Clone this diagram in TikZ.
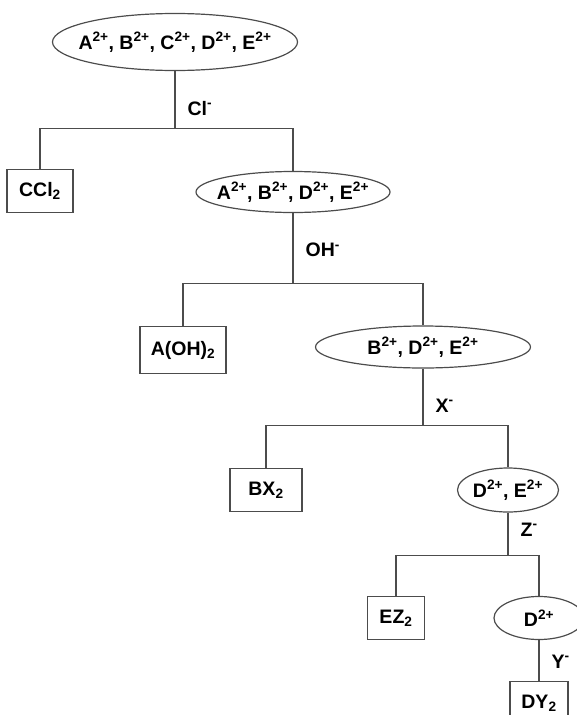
\documentclass[tikz,border=0pt]{standalone}
\usepackage{fontspec}
\setmainfont{Liberation Sans}
\usetikzlibrary{shapes.geometric, positioning, calc}

\newcommand{\ion}[1]{#1\textsuperscript{2+}}

\begin{document}
\begin{tikzpicture}[x=1pt, y=-1pt, line width=1.2pt, draw=black!70,
  every node/.style={font=\bfseries\fontsize{19.5}{23}\selectfont},
  ions/.style={ellipse, draw=black!70, inner xsep=-40pt, inner ysep=0pt},
  salt/.style={rectangle, draw=black!70, inner sep=0pt},
  reagent/.style={right, inner sep=0pt, xshift=12pt}]
  \useasboundingbox (0,0) rectangle (576,715);

  \node[ions, minimum width=245pt, minimum height=57pt] (all)  at (175,42)  {\ion{A}, \ion{B}, \ion{C}, \ion{D}, \ion{E}};
  \node[salt, minimum width=66pt,  minimum height=43pt] (ccl)  at (40,191)  {CCl\textsubscript{2}};
  \node[ions, minimum width=194pt, minimum height=41pt] (abde) at (293,192) {\ion{A}, \ion{B}, \ion{D}, \ion{E}};
  \node[salt, minimum width=86pt,  minimum height=47pt] (aoh)  at (183,350) {A(OH)\textsubscript{2}};
  \node[ions, minimum width=215pt, minimum height=42pt] (bde)  at (423,347) {\ion{B}, \ion{D}, \ion{E}};
  \node[salt, minimum width=72pt,  minimum height=43pt] (bx)   at (266,490) {BX\textsubscript{2}};
  \node[ions, minimum width=101pt, minimum height=44pt] (de)   at (508,490) {\ion{D}, \ion{E}};
  \node[salt, minimum width=57pt,  minimum height=43pt] (ez)   at (396,618) {EZ\textsubscript{2}};
  \node[ions, minimum width=90pt,  minimum height=43pt] (d)    at (539,618) {\ion{D}};
  \node[salt, minimum width=58pt,  minimum height=43pt] (dy)   at (539,703) {DY\textsubscript{2}};

  \coordinate (s1) at ($(all.south)+(0,57)$);
  \coordinate (s2) at ($(abde.south)+(0,70)$);
  \coordinate (s3) at ($(bde.south)+(0,57)$);
  \coordinate (s4) at ($(de.south)+(0,43)$);

  \draw (all.south) -- node[reagent, pos=.65] {Cl\textsuperscript{-}} (s1);
  \draw (ccl.north) -- (ccl.north |- s1) -- (abde.north |- s1) -- (abde.north);

  \draw (abde.south) -- node[reagent, pos=.53] {OH\textsuperscript{-}} (s2);
  \draw (aoh.north) -- (aoh.north |- s2) -- (bde.north |- s2) -- (bde.north);

  \draw (bde.south) -- node[reagent, pos=.65] {X\textsuperscript{-}} (s3);
  \draw (bx.north) -- (bx.north |- s3) -- (de.north |- s3) -- (de.north);

  \draw (de.south) -- node[reagent, pos=.4] {Z\textsuperscript{-}} (s4);
  \draw (ez.north) -- (ez.north |- s4) -- (d.north |- s4) -- (d.north);

  \draw (d.south) -- node[reagent, pos=.52] {Y\textsuperscript{-}} (dy.north);
\end{tikzpicture}
\end{document}
